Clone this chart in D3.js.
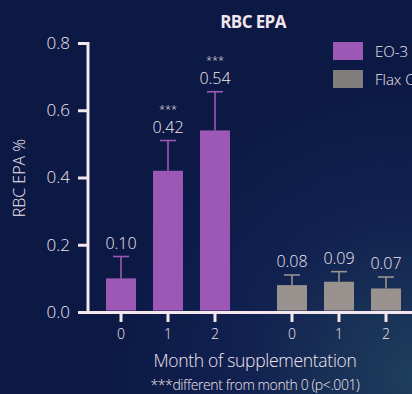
<!DOCTYPE html>
<html><head><meta charset="utf-8">
<script src="https://cdn.jsdelivr.net/npm/d3@7"></script>
<style>
html,body{margin:0;padding:0;background:#0c1945;overflow:hidden;}
svg{display:block;}
text{font-family:"Open Sans","Noto Sans",sans-serif;}
</style></head><body>
<svg id="c" width="412" height="394"></svg>
<script>
const groups = ["EO-3", "Flax Oil"];
const months = ["0", "1", "2"];
const eo3Values = [0.10, 0.42, 0.54];
const eo3Errors = [0.065, 0.09, 0.115];
const flaxValues = [0.08, 0.09, 0.07];
const flaxErrors = [0.03, 0.03, 0.034];
const valueLabels = [["0.10", "0.42", "0.54"], ["0.08", "0.09", "0.07"]];
const stars = [["", "***", "***"], ["", "", ""]];
const yTicks = [0.0, 0.2, 0.4, 0.6, 0.8];
const colors = ["#9c58b4", "#9a928f"];
const legendColors = ["#9c58b4", "#7f7e7d"];

const svg = d3.select("#c");
const defs = svg.append("defs");
const g1 = defs.append("radialGradient").attr("id","bg").attr("cx","1").attr("cy","0.95").attr("r","0.75");
g1.append("stop").attr("offset","0").attr("stop-color","#1f3e5c");
g1.append("stop").attr("offset","0.55").attr("stop-color","#112150");
g1.append("stop").attr("offset","1").attr("stop-color","#0c1945");
svg.append("rect").attr("width",412).attr("height",394).attr("fill","url(#bg)");

const fg = "#f3e6ee";
const y = d3.scaleLinear().domain([0, 0.8]).range([312, 43]);
const xs = d3.scaleLinear().domain([0, 2]).range([121, 215]);
const xf = d3.scaleLinear().domain([0, 2]).range([292, 386]);
const barW = 30;

// y axis
const yAxis = d3.axisLeft(y).tickValues(yTicks).tickFormat(d3.format(".1f")).tickSize(10).tickPadding(8);
const ya = svg.append("g").attr("transform","translate(88,0)").call(yAxis);
ya.select(".domain").attr("stroke",fg).attr("stroke-width",3).attr("d","M-10,43.5H0V312");
ya.selectAll(".tick line").attr("stroke",fg).attr("stroke-width",3);
ya.selectAll(".tick text").attr("fill",fg).attr("font-size",17).attr("font-weight",300).attr("font-family","'Open Sans'");

// x axis line
svg.append("line").attr("x1",87).attr("x2",412).attr("y1",312.5).attr("y2",312.5).attr("stroke",fg).attr("stroke-width",3);

const series = [
  {vals: eo3Values, errs: eo3Errors, sx: xs, col: colors[0]},
  {vals: flaxValues, errs: flaxErrors, sx: xf, col: colors[1]}
];
series.forEach((s, si) => {
  const g = svg.append("g");
  s.vals.forEach((v, i) => {
    const cx = s.sx(i);
    const top = y(v + s.errs[i]);
    g.append("line").attr("x1",cx).attr("x2",cx).attr("y1",y(v)).attr("y2",top).attr("stroke",s.col).attr("stroke-width",1.6);
    g.append("line").attr("x1",cx-8).attr("x2",cx+8).attr("y1",top).attr("y2",top).attr("stroke",s.col).attr("stroke-width",1.6);
    g.append("rect").attr("x",cx-barW/2).attr("y",y(v)).attr("width",barW).attr("height",y(0)-y(v)-1.5).attr("fill",s.col);
    g.append("text").attr("x",cx).attr("y",top - 8).attr("text-anchor","middle")
      .attr("fill",fg).attr("font-size",16).attr("font-weight",300).text(valueLabels[si][i]);
    if (stars[si][i]) {
      g.append("text").attr("x",cx).attr("y",top - 28).attr("text-anchor","middle")
        .attr("fill",fg).attr("font-size",11).attr("font-weight",300).text(stars[si][i]);
    }
    g.append("line").attr("x1",cx).attr("x2",cx).attr("y1",312).attr("y2",322).attr("stroke",fg).attr("stroke-width",3);
    g.append("text").attr("x",cx).attr("y",339).attr("text-anchor","middle").attr("fill",fg)
      .attr("font-size",14).attr("font-weight",300).text(months[i]);
  });
});

// title
svg.append("text").attr("x",253).attr("y",28).attr("text-anchor","middle").attr("fill",fg)
  .attr("font-size",17).attr("font-weight",700).attr("letter-spacing",-0.6).text("RBC EPA");

// legend
groups.forEach((gname, i) => {
  svg.append("rect").attr("x",333).attr("y",42 + i*28).attr("width",30).attr("height",18).attr("fill",legendColors[i]);
  svg.append("text").attr("x",375).attr("y",57 + i*28).attr("fill",fg).attr("font-size",15).attr("font-weight",300).text(gname);
});

// axis titles
svg.append("text").attr("transform","translate(25,178) rotate(-90)").attr("text-anchor","middle").attr("fill",fg)
  .attr("font-size",16).attr("font-weight",300).text("RBC EPA %");
svg.append("text").attr("x",255).attr("y",367).attr("text-anchor","middle").attr("fill",fg)
  .attr("font-size",17.5).attr("font-weight",300).attr("letter-spacing",-0.3).text("Month of supplementation");
svg.append("text").attr("x",255).attr("y",390).attr("text-anchor","middle").attr("fill",fg)
  .attr("font-size",14).attr("font-weight",300).attr("letter-spacing",-0.4).text("***different from month 0 (p<.001)");
</script></body></html>
